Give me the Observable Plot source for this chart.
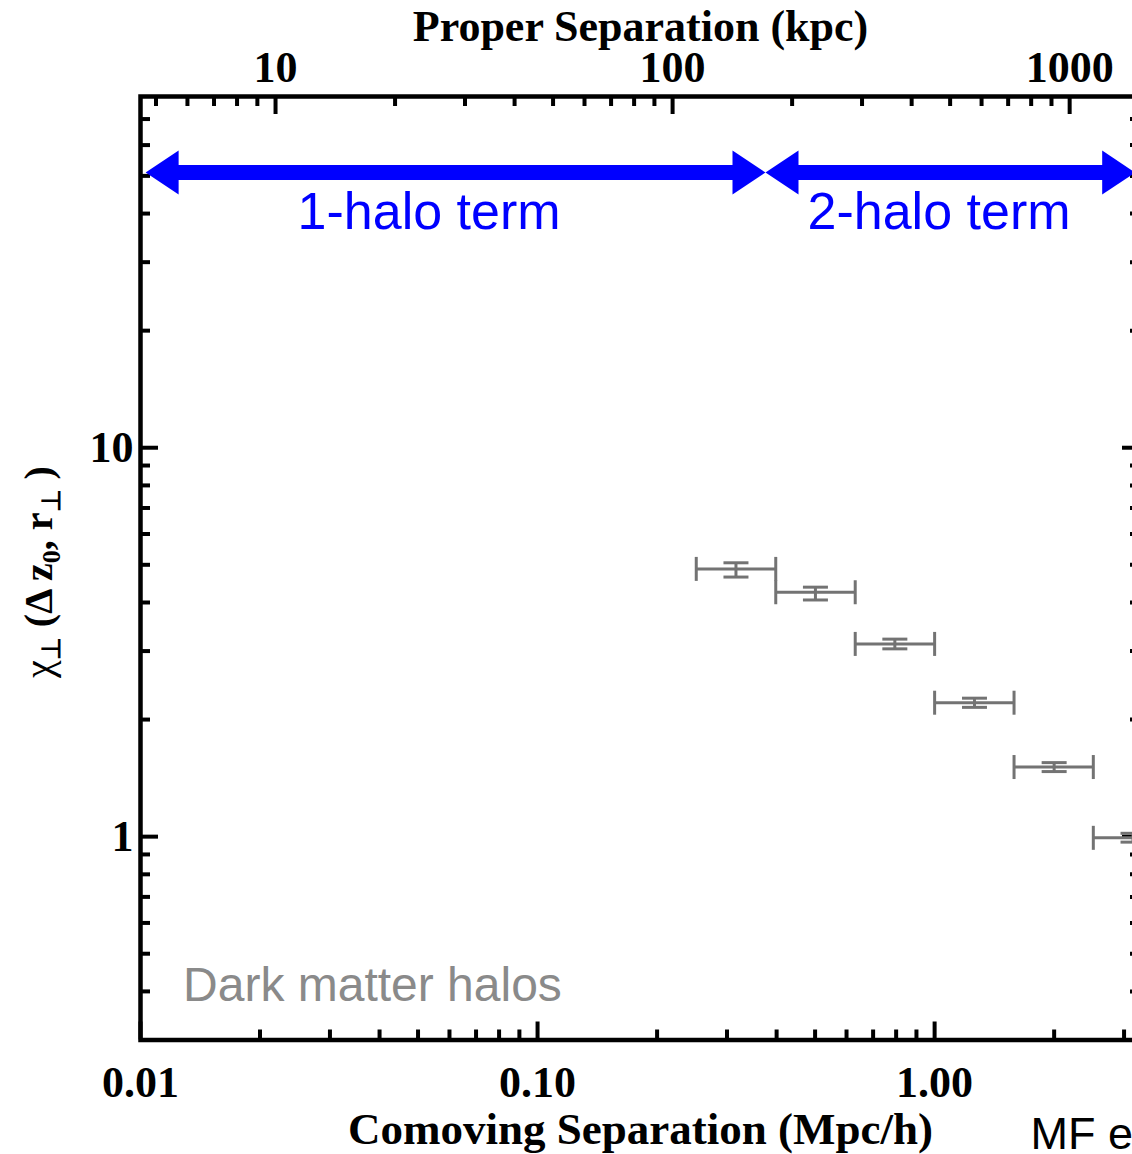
<!DOCTYPE html>
<html><head><meta charset="utf-8">
<script src="https://cdn.jsdelivr.net/npm/d3@7"></script>
<script src="https://cdn.jsdelivr.net/npm/@observablehq/plot@0.6"></script>
<style>
html,body{margin:0;padding:0;background:#fff;overflow:hidden}
#wrap{width:1132px;height:1154px;overflow:hidden;position:relative;background:#fff}
#wrap svg{max-width:none !important;width:1142px !important;height:1154px !important;display:block}
</style></head><body><div id="wrap"></div>
<script>
// ---- data ----
const sepX  = [0.316, 0.501, 0.794, 1.26, 2.00, 3.16];   // comoving separation (Mpc/h), bin centres
const sepLo = [0.251, 0.398, 0.631, 1.00, 1.585, 2.51];
const sepHi = [0.398, 0.631, 1.00, 1.585, 2.51, 3.98];
const chi   = [4.88, 4.25, 3.13, 2.21, 1.51, 0.993];
const chiLo = [4.65, 4.06, 3.04, 2.15, 1.47, 0.968];
const chiHi = [5.06, 4.38, 3.22, 2.27, 1.55, 1.02];

const bottomMajor = [0.01, 0.1, 1];
const bottomMinor = [0.02,0.03,0.04,0.05,0.06,0.07,0.08,0.09,0.2,0.3,0.4,0.5,0.6,0.7,0.8,0.9,2,3];
const leftMajor = [1, 10];
const leftMinor = [0.4,0.5,0.6,0.7,0.8,0.9,2,3,4,5,6,7,8,9,20,30,40,50,60,70];
const topMajorKpc = [10, 100, 1000];
const topMinorKpc = [5,6,7,8,9,20,30,40,50,60,70,80,90,200,300,400,500,600,700,800,900];
const kpcPerComoving = 457;   // proper kpc per comoving Mpc/h

const arrowFrom = [0.0103, 0.375];
const arrowTo   = [0.375, 3.2];
const arrowLevel = 51;
const regionLabels = ["1-halo term", "2-halo term"];
const regionLabelX = [0.0533, 1.026];
const noteText = "Dark matter halos", noteX = 0.0128, noteY = 0.379;

const xTitle = "Comoving Separation (Mpc/h)";
const topTitle = "Proper Separation (kpc)";
const cornerText = "MF e";

// ---- layout ----
const W = 1142, H = 1154, mL = 140, mR = 2, mT = 96, mB = 114.5;
const plotW = W - mL - mR, plotH = H - mT - mB;
const major = 18, minor = 10;
const serif = "Liberation Serif, Times New Roman, serif";
const sans = "Liberation Sans, Arial, sans-serif";
const gray = "#737373", blue = "#0000ff";

const pts = sepX.map((x, i) => ({x, lo: sepLo[i], hi: sepHi[i], y: chi[i], ylo: chiLo[i], yhi: chiHi[i]}));

const vCap = {draw(c) { c.moveTo(0, -12); c.lineTo(0, 12); }};
const hCap = {draw(c) { c.moveTo(-12.5, 0); c.lineTo(12.5, 0); }};
const headRight = {draw(c) { c.moveTo(0, 0); c.lineTo(-33, -22); c.lineTo(-33, 22); c.closePath(); }};
const headLeft  = {draw(c) { c.moveTo(0, 0); c.lineTo(33, -22); c.lineTo(33, 22); c.closePath(); }};

const txt = {fontFamily: serif, fontWeight: "bold", fontSize: 44, fill: "black"};

const chart = Plot.plot({
  width: W, height: H,
  marginLeft: mL, marginRight: mR, marginTop: mT, marginBottom: mB,
  style: {background: "white", maxWidth: "none"},
  x: {type: "log", domain: [0.01, 3.30]},
  y: {type: "log", domain: [0.3, 80]},
  marks: [
    // ticks (inward)
    Plot.tickX(bottomMajor, {x: d => d, insetTop: plotH - major, stroke: "black", strokeWidth: 4}),
    Plot.tickX(bottomMinor, {x: d => d, insetTop: plotH - minor, stroke: "black", strokeWidth: 4}),
    Plot.tickX(topMajorKpc, {x: d => d / kpcPerComoving, insetBottom: plotH - major, stroke: "black", strokeWidth: 4}),
    Plot.tickX(topMinorKpc, {x: d => d / kpcPerComoving, insetBottom: plotH - minor, stroke: "black", strokeWidth: 4}),
    Plot.tickY(leftMajor, {y: d => d, insetRight: plotW - major, stroke: "black", strokeWidth: 4}),
    Plot.tickY(leftMinor, {y: d => d, insetRight: plotW - minor, stroke: "black", strokeWidth: 4}),
    Plot.tickY(leftMajor, {y: d => d, insetLeft: plotW - major, stroke: "black", strokeWidth: 4}),
    Plot.tickY(leftMinor, {y: d => d, insetLeft: plotW - minor, stroke: "black", strokeWidth: 4}),
    // tick labels
    Plot.axisX({anchor: "bottom", ticks: bottomMajor, tickFormat: d3.format(".2f"), tickSize: 0, tickPadding: 26, label: null, ...txt}),
    Plot.axisX({anchor: "top", ticks: topMajorKpc.map(k => k / kpcPerComoving), tickFormat: d => String(Math.round(d * kpcPerComoving)), tickSize: 0, tickPadding: 15, label: null, ...txt}),
    Plot.axisY({anchor: "left", ticks: leftMajor, tickFormat: d => String(d), tickSize: 0, tickPadding: 7, label: null, ...txt}),
    // titles
    Plot.text([xTitle], {text: d => d, frameAnchor: "bottom", dy: 104, lineAnchor: "bottom", ...txt, fontSize: 45}),
    Plot.text([topTitle], {text: d => d, frameAnchor: "top", dy: -56, lineAnchor: "bottom", ...txt, fontSize: 44}),
    Plot.text([cornerText], {text: d => d, frameAnchor: "bottom-left", dx: 890, dy: 109, lineAnchor: "bottom", textAnchor: "start", fontFamily: sans, fontSize: 45, fill: "black"}),
    // error bars
    Plot.ruleY(pts, {y: "y", x1: "lo", x2: "hi", stroke: gray, strokeWidth: 3}),
    Plot.dot(pts, {x: "lo", y: "y", symbol: vCap, fill: "none", stroke: gray, strokeWidth: 3}),
    Plot.dot(pts, {x: "hi", y: "y", symbol: vCap, fill: "none", stroke: gray, strokeWidth: 3}),
    Plot.ruleX(pts, {x: "x", y1: "ylo", y2: "yhi", stroke: gray, strokeWidth: 3}),
    Plot.dot(pts, {x: "x", y: "ylo", symbol: hCap, fill: "none", stroke: gray, strokeWidth: 3}),
    Plot.dot(pts, {x: "x", y: "yhi", symbol: hCap, fill: "none", stroke: gray, strokeWidth: 3}),
    // arrows
    Plot.ruleY(arrowFrom, {x1: d => d, x2: (d, i) => arrowTo[i], y: () => arrowLevel, insetLeft: 30, insetRight: 30, stroke: blue, strokeWidth: 15}),
    Plot.dot(arrowTo, {x: d => d, y: () => arrowLevel, symbol: headRight, fill: blue, stroke: "none"}),
    Plot.dot(arrowFrom, {x: d => d, y: () => arrowLevel, symbol: headLeft, fill: blue, stroke: "none"}),
    Plot.text(regionLabels, {text: d => d, x: (d, i) => regionLabelX[i], y: () => arrowLevel, dy: 56.5, lineAnchor: "bottom", textAnchor: "middle", fill: blue, fontFamily: sans, fontSize: 52}),
    Plot.text([noteText], {text: d => d, x: () => noteX, y: () => noteY, textAnchor: "start", lineAnchor: "bottom", fill: "#8a8a8a", fontFamily: sans, fontSize: 48}),
    Plot.frame({stroke: "black", strokeWidth: 4.5})
  ]
});
document.getElementById("wrap").appendChild(chart);

// y-axis label with subscripts
const svg = d3.select(chart);
const yl = svg.append("text")
  .attr("transform", "translate(52,572) rotate(-90)")
  .attr("text-anchor", "middle")
  .attr("font-family", serif).attr("font-weight", "bold").attr("font-size", 40).attr("fill", "black");
yl.append("tspan").attr("font-weight", "normal").text("χ");
yl.append("tspan").attr("font-size", 26).attr("dy", 8).text("⊥");
yl.append("tspan").attr("dy", -8).text(" (Δ z");
yl.append("tspan").attr("font-size", 26).attr("dy", 8).text("0");
yl.append("tspan").attr("dy", -8).text(", r");
yl.append("tspan").attr("font-size", 26).attr("dy", 8).text("⊥");
yl.append("tspan").attr("dy", -8).text(" )");
</script></body></html>
